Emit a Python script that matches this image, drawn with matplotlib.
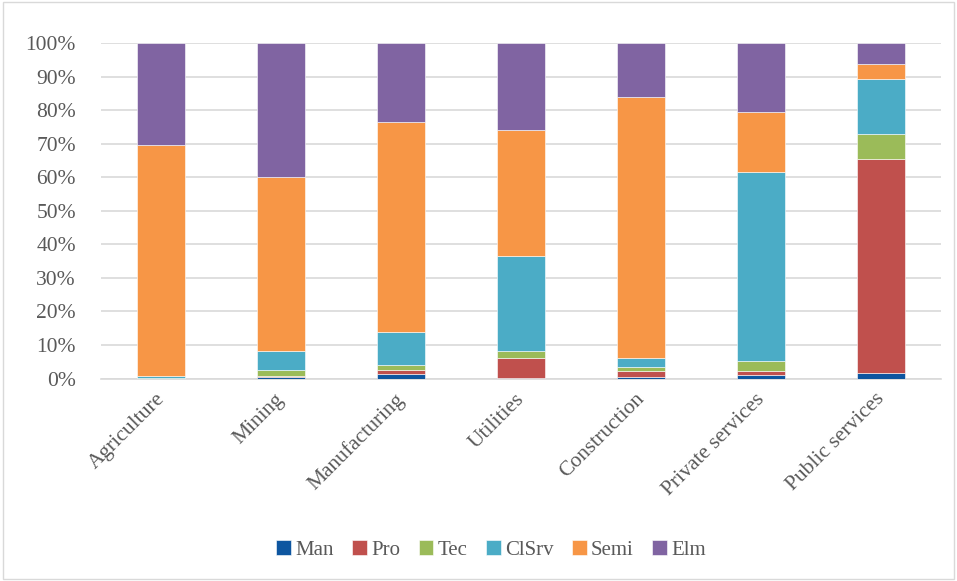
import matplotlib
matplotlib.use("Agg")
import matplotlib.pyplot as plt
from matplotlib.patches import Rectangle
from matplotlib.ticker import FuncFormatter
import matplotlib.transforms as mtrans
import numpy as np

categories = ["Agriculture", "Mining", "Manufacturing", "Utilities", "Construction",
              "Private services", "Public services"]
series_names = ["Man", "Pro", "Tec", "ClSrv", "Semi", "Elm"]
man   = [0.0, 0.6, 1.3, 0.2, 0.6, 1.0, 1.6]
pro   = [0.0, 0.3, 1.2, 5.8, 1.5, 1.1, 63.7]
tec   = [0.1, 1.7, 1.6, 2.2, 1.2, 3.0, 7.5]
clsrv = [0.7, 5.5, 9.8, 28.2, 2.7, 56.4, 16.6]
semi  = [68.7, 52.0, 62.6, 37.8, 77.8, 17.8, 4.2]
elm   = [30.5, 39.9, 23.5, 25.8, 16.2, 20.7, 6.4]
colors = ["#0E56A0", "#C0504D", "#9BBB59", "#4BACC6", "#F79646", "#8064A2"]

plt.rcParams['font.family'] = ['Liberation Serif', 'DejaVu Serif']
text_color = "#595959"

fig = plt.figure(figsize=(9.57, 5.81), dpi=100)
ax = fig.add_axes([0.1055, 0.3485, 0.8775, 0.5775])

x = np.arange(len(categories))
bottom = np.zeros(len(categories))
for name, vals, c in zip(series_names, [man, pro, tec, clsrv, semi, elm], colors):
    v = np.array(vals, dtype=float)
    ax.bar(x, v, 0.4, bottom=bottom, color=c, label=name, edgecolor="white", linewidth=0.4, zorder=3)
    bottom += v

ax.set_xlim(-0.5, len(categories) - 0.5)
ax.set_ylim(0, 100)
ax.set_yticks(np.arange(0, 101, 10))
ax.yaxis.set_major_formatter(FuncFormatter(lambda v, p: f"{int(v)}%"))
ax.grid(axis="y", color="#D9D9D9", linewidth=1.2, zorder=0)
for s in ["top", "right", "left"]:
    ax.spines[s].set_visible(False)
ax.spines["bottom"].set_color("#D9D9D9")
ax.spines["bottom"].set_linewidth(1.2)
ax.tick_params(axis="both", length=0, colors=text_color, labelsize=15.5)
ax.tick_params(axis="y", pad=18)
ax.tick_params(axis="x", pad=8)
ax.set_xticks(x)
ax.set_xticklabels(categories, rotation=45, ha="right", rotation_mode="anchor", color=text_color)
offset = mtrans.ScaledTranslation(-6 / 100, 0, fig.dpi_scale_trans)
for lbl in ax.get_xticklabels():
    lbl.set_transform(lbl.get_transform() + offset)

leg = fig.legend(loc="center", bbox_to_anchor=(0.513, 0.053), ncol=6, frameon=False,
                 fontsize=15, handlelength=0.7, handleheight=0.7, handletextpad=0.2,
                 columnspacing=0.9, labelcolor=text_color)

fig.patches.append(Rectangle((0.003, 0.003), 0.994, 0.994, transform=fig.transFigure,
                             fill=False, edgecolor="#D9D9D9", linewidth=1))
fig.savefig("out.png", dpi=100)
